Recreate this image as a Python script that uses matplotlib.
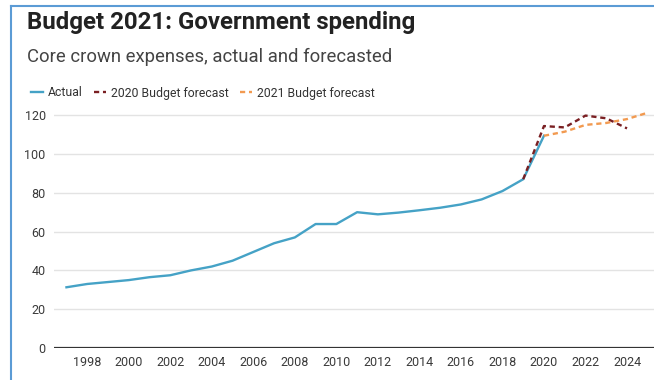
import matplotlib
matplotlib.use("Agg")
import matplotlib.pyplot as plt
from matplotlib.lines import Line2D

plt.rcParams['font.family'] = ['Roboto', 'DejaVu Sans']

# Core crown expenses ($bn)
years_actual = list(range(1997, 2021))
actual = [31.3, 33, 34, 35, 36.5, 37.5, 40, 42, 45, 49.5, 54, 57,
          63.9, 63.9, 70, 68.9, 69.8, 71, 72.3, 74, 76.6, 80.9, 87, 109.4]

years_2020 = [2019, 2020, 2021, 2022, 2023, 2024]
forecast_2020 = [87, 114.4, 113.7, 119.8, 118.4, 113.2]

years_2021 = [2020, 2021, 2022, 2023, 2024, 2025]
forecast_2021 = [109.4, 111.5, 115, 116, 118, 121.3]

x_ticks = list(range(1998, 2025, 2))
y_ticks = [0, 20, 40, 60, 80, 100, 120]

fig = plt.figure(figsize=(6.54, 3.80), dpi=100)
ax = fig.add_axes([54 / 654, 32 / 380, 600 / 654, 125 * 1.94 / 380])

ax.plot(years_actual, actual, color='#45a2c6', lw=1.7, label='Actual', zorder=3)
ax.plot(years_2020, forecast_2020, color='#7a1f22', lw=1.7, ls=(0, (2.2, 1.6)),
        label='2020 Budget forecast', zorder=4)
ax.plot(years_2021, forecast_2021, color='#f29a50', lw=1.7, ls=(0, (2.2, 1.6)),
        label='2021 Budget forecast', zorder=4)

ax.set_xlim(1996.4, 2025.3)
ax.set_ylim(0, 125)
ax.set_xticks(x_ticks)
ax.set_yticks(y_ticks)
ax.tick_params(length=0, labelsize=9, colors='#3a3a3a', pad=6)
ax.grid(axis='y', color='#e3e3e3', lw=1)
ax.axhline(0, color='#333333', lw=1.6, zorder=2)
for s in ax.spines.values():
    s.set_visible(False)

fig.text(27 / 654, 1 - 22 / 380, 'Budget 2021: Government spending',
         fontsize=17.3, fontweight='bold', color='#222222', va='center')
fig.text(27 / 654, 1 - 57 / 380, 'Core crown expenses, actual and forecasted',
         fontsize=13.3, color='#444444', va='center')

fig.legend(loc='center left', bbox_to_anchor=(20 / 654, 1 - 93 / 380), ncol=3,
           frameon=False, fontsize=8.8, handlelength=1.0, handletextpad=0.4,
           columnspacing=0.9, labelcolor='#333333')

# frame edges on the left and top
fig.add_artist(Line2D([10.5 / 654, 10.5 / 654], [0, 1 - 6 / 380],
                      transform=fig.transFigure, color='#5b9bd5', lw=1.5))
fig.add_artist(Line2D([10.5 / 654, 1], [1 - 6 / 380, 1 - 6 / 380],
                      transform=fig.transFigure, color='#5b9bd5', lw=1.5))

fig.savefig('out.png', dpi=100)
